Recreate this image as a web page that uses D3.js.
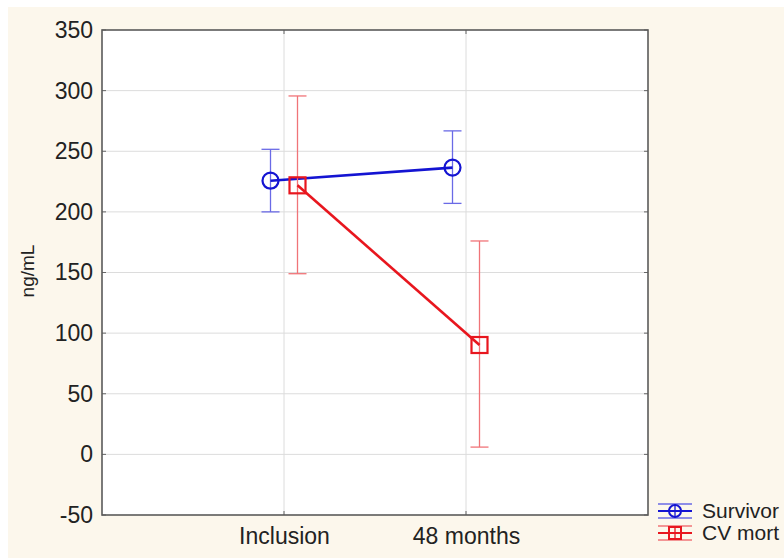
<!DOCTYPE html>
<html>
<head>
<meta charset="utf-8">
<script src="https://cdn.jsdelivr.net/npm/d3@7/dist/d3.min.js"></script>
<style>
  html, body { margin: 0; padding: 0; background: #ffffff; }
  svg { display: block; }
  text { font-family: "Liberation Sans", Arial, sans-serif; fill: #222; }
</style>
</head>
<body>
<svg id="chart" width="784" height="558"></svg>
<script>
// Time points and series (means with error intervals, ng/mL)
const categories = ["Inclusion", "48 months"];
const seriesNames = ["Survivor", "CV mort"];
const survivorMean = [225.7, 236.5];
const survivorLow  = [200.0, 207.0];
const survivorHigh = [251.6, 266.8];
const cvMortMean   = [221.9, 90.2];
const cvMortLow    = [149.0, 6.0];
const cvMortHigh   = [295.6, 176.0];
const yTicks = [-50, 0, 50, 100, 150, 200, 250, 300, 350];
const yLabel = "ng/mL";

const svg = d3.select("#chart");
const W = 784, H = 558;

// Cream page panel
svg.append("rect").attr("x", 8).attr("y", 7).attr("width", W - 8).attr("height", H - 7)
  .attr("fill", "#fcf7ec");

const plot = { left: 102, right: 648, top: 30, bottom: 515 };

const x = d3.scalePoint().domain(categories).range([plot.left, plot.right]).padding(1);
const y = d3.scaleLinear().domain([-50, 350]).range([plot.bottom, plot.top]);

// Plot area
svg.append("rect")
  .attr("x", plot.left).attr("y", plot.top)
  .attr("width", plot.right - plot.left).attr("height", plot.bottom - plot.top)
  .attr("fill", "#ffffff");

// Gridlines
const grid = svg.append("g").attr("stroke", "#dcdcdc").attr("stroke-width", 1);
grid.selectAll("line.h").data(yTicks.filter(t => t > -50 && t < 350)).join("line")
  .attr("x1", plot.left).attr("x2", plot.right)
  .attr("y1", d => y(d)).attr("y2", d => y(d));
grid.selectAll("line.v").data(categories).join("line")
  .attr("x1", d => x(d)).attr("x2", d => x(d))
  .attr("y1", plot.top).attr("y2", plot.bottom);

// Axes (labels only; frame drawn separately)
const yAxis = d3.axisLeft(y).tickValues(yTicks).tickFormat(d => String(d))
  .tickSize(0).tickPadding(9);
const gy = svg.append("g").attr("transform", `translate(${plot.left},0)`).call(yAxis);
gy.select(".domain").remove();
gy.selectAll("text").style("font-size", "23px").attr("fill", "#222")
  .attr("font-family", "Liberation Sans, Arial, sans-serif");

const xAxis = d3.axisBottom(x).tickSize(0).tickPadding(13);
const gx = svg.append("g").attr("transform", `translate(0,${plot.bottom})`).call(xAxis);
gx.select(".domain").remove();
gx.selectAll("text").style("font-size", "23px").attr("fill", "#222")
  .attr("font-family", "Liberation Sans, Arial, sans-serif");

// Small inward tick marks
const ticks = svg.append("g").attr("stroke", "#666").attr("stroke-width", 1);
ticks.selectAll("line.yt").data(yTicks).join("line")
  .attr("x1", plot.left).attr("x2", plot.left + 4)
  .attr("y1", d => y(d)).attr("y2", d => y(d));
ticks.selectAll("line.xt").data(categories).join("line")
  .attr("x1", d => x(d)).attr("x2", d => x(d))
  .attr("y1", plot.bottom).attr("y2", plot.bottom - 4);
ticks.selectAll("line.xt2").data(categories).join("line")
  .attr("x1", d => x(d)).attr("x2", d => x(d))
  .attr("y1", plot.top).attr("y2", plot.top + 4);
ticks.selectAll("line.yt2").data(yTicks).join("line")
  .attr("x1", plot.right).attr("x2", plot.right - 4)
  .attr("y1", d => y(d)).attr("y2", d => y(d));

// Frame
svg.append("rect")
  .attr("x", plot.left).attr("y", plot.top)
  .attr("width", plot.right - plot.left).attr("height", plot.bottom - plot.top)
  .attr("fill", "none").attr("stroke", "#5a5a5a").attr("stroke-width", 1.6);

// Y label
svg.append("text")
  .attr("transform", `translate(34,271) rotate(-90)`)
  .attr("text-anchor", "middle")
  .style("font-size", "19px")
  .text(yLabel);

// Series
const series = [
  { name: seriesNames[0], mean: survivorMean, lo: survivorLow, hi: survivorHigh,
    line: "#1414d2", err: "#6a6ae6", shape: "circle", offset: -13.5 },
  { name: seriesNames[1], mean: cvMortMean, lo: cvMortLow, hi: cvMortHigh,
    line: "#e8161e", err: "#f07478", shape: "square", offset: 13.5 }
];

const capHalf = 9;
series.forEach(s => {
  const g = svg.append("g");
  const pts = categories.map((c, i) => ({
    cx: x(c) + s.offset, m: s.mean[i], lo: s.lo[i], hi: s.hi[i]
  }));
  // Error bars
  const eb = g.append("g").attr("stroke", s.err).attr("stroke-width", 1.3).attr("fill", "none");
  pts.forEach(p => {
    eb.append("line").attr("x1", p.cx).attr("x2", p.cx).attr("y1", y(p.lo)).attr("y2", y(p.hi));
    eb.append("line").attr("x1", p.cx - capHalf).attr("x2", p.cx + capHalf).attr("y1", y(p.lo)).attr("y2", y(p.lo));
    eb.append("line").attr("x1", p.cx - capHalf).attr("x2", p.cx + capHalf).attr("y1", y(p.hi)).attr("y2", y(p.hi));
  });
  // Connecting line
  g.append("path")
    .datum(pts)
    .attr("d", d3.line().x(p => p.cx).y(p => y(p.m)))
    .attr("fill", "none").attr("stroke", s.line).attr("stroke-width", 2.6);
  // Markers
  pts.forEach(p => {
    if (s.shape === "circle") {
      g.append("circle").attr("cx", p.cx).attr("cy", y(p.m)).attr("r", 8)
        .attr("fill", "none").attr("stroke", s.line).attr("stroke-width", 2.2);
    } else {
      g.append("rect").attr("x", p.cx - 8).attr("y", y(p.m) - 8)
        .attr("width", 16).attr("height", 16)
        .attr("fill", "none").attr("stroke", s.line).attr("stroke-width", 2.2);
    }
  });
});

// Legend
const legend = svg.append("g");
const legX0 = 658, legX1 = 692, legCx = 675;
series.forEach((s, i) => {
  const cy = 511 + i * 22;
  const lg = legend.append("g");
  lg.append("line").attr("x1", legX0).attr("x2", legX1).attr("y1", cy - 7).attr("y2", cy - 7)
    .attr("stroke", s.err).attr("stroke-width", 1.3);
  lg.append("line").attr("x1", legX0).attr("x2", legX1).attr("y1", cy + 7).attr("y2", cy + 7)
    .attr("stroke", s.err).attr("stroke-width", 1.3);
  lg.append("line").attr("x1", legCx).attr("x2", legCx).attr("y1", cy - 7).attr("y2", cy + 7)
    .attr("stroke", s.line).attr("stroke-width", 1.3);
  lg.append("line").attr("x1", legX0).attr("x2", legX1).attr("y1", cy).attr("y2", cy)
    .attr("stroke", s.line).attr("stroke-width", 2.2);
  if (s.shape === "circle") {
    lg.append("circle").attr("cx", legCx).attr("cy", cy).attr("r", 6)
      .attr("fill", "none").attr("stroke", s.line).attr("stroke-width", 2);
  } else {
    lg.append("rect").attr("x", legCx - 6).attr("y", cy - 6).attr("width", 12).attr("height", 12)
      .attr("fill", "none").attr("stroke", s.line).attr("stroke-width", 2);
  }
  lg.append("text").attr("x", 702).attr("y", cy + 7)
    .style("font-size", "21px").text(s.name);
});
</script>
</body>
</html>
